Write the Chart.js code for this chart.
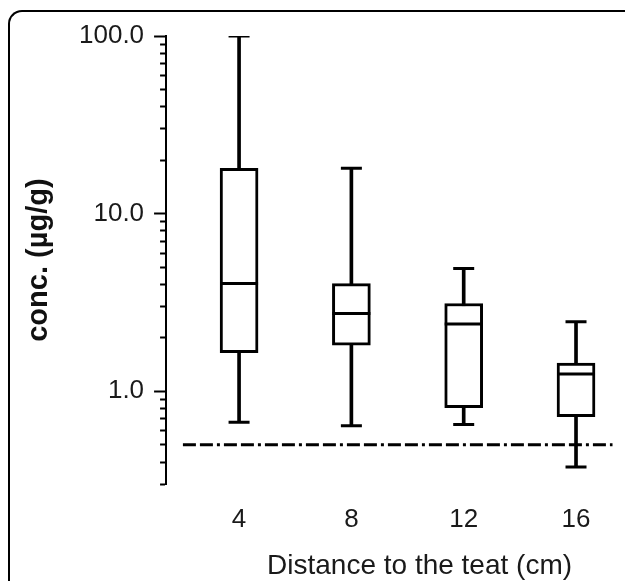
<!DOCTYPE html>
<html>
<head>
<meta charset="utf-8">
<script src="https://cdn.jsdelivr.net/npm/chart.js@4"></script>
<style>
  html, body { margin: 0; padding: 0; background: #fff; overflow: hidden; }
  #wrap { position: relative; width: 625px; height: 581px; overflow: hidden; }
  #frame {
    position: absolute; left: 8px; top: 10px; width: 700px; height: 700px;
    border-left: 2px solid #000; border-top: 2px solid #000;
    border-top-left-radius: 14px; pointer-events: none;
  }
</style>
</head>
<body>
<div id="wrap">
  <!-- canvas a bit wider than the window so the x title sits where the original has it -->
  <canvas id="boxChart" width="695" height="581"></canvas>
  <div id="frame"></div>
</div>
<script>
// Box plot values (µg/g), one entry per distance
const distances = [4, 8, 12, 16];
const whiskerLow = [0.67, 0.64, 0.65, 0.375];
const quartile1 = [1.65, 1.82, 0.81, 0.72];
const medians = [4.04, 2.74, 2.39, 1.25];
const quartile3 = [18.0, 4.04, 3.12, 1.44];
const whiskerHigh = [100, 18.0, 4.91, 2.46];

// Detection limit (dashed line)
const limitValue = 0.5;
const limitRange = [2, 17.3];

// Axis ticks
const xTicks = [4, 8, 12, 16];
const yTicks = [0.3, 0.4, 0.5, 0.6, 0.7, 0.8, 0.9, 1, 2, 3, 4, 5, 6, 7, 8, 9, 10, 20, 30, 40, 50, 60, 70, 80, 90, 100];
const yMajor = [1, 10, 100];

const tickFont = { family: 'Liberation Sans', size: 26 };

// Build datasets
const medianData = distances.map((x, i) => ({ x, y: medians[i] }));
const boxData = distances.map((x, i) => ({ x, y: [quartile1[i], quartile3[i]] }));
const capData = [];
distances.forEach((x, i) => {
    capData.push({ x, y: whiskerLow[i] });
    capData.push({ x, y: whiskerHigh[i] });
});
const whiskerData = distances.map((x, i) => ({ x, y: [whiskerLow[i], whiskerHigh[i]] }));
const limitData = limitRange.map(x => ({ x, y: limitValue }));

const ctx = document.getElementById('boxChart').getContext('2d');
new Chart(ctx, {
    type: 'bar',
    data: {
        datasets: [
            {
                type: 'line', data: medianData, showLine: false,
                pointStyle: 'line', pointRadius: 19, pointBorderWidth: 3,
                pointBorderColor: '#000', pointHoverRadius: 19
            },
            {
                data: boxData, grouped: false, barThickness: 38,
                backgroundColor: '#fff', borderColor: '#000', borderWidth: 3,
                borderSkipped: false
            },
            {
                type: 'line', data: capData, showLine: false,
                pointStyle: 'line', pointRadius: 10.5, pointBorderWidth: 3,
                pointBorderColor: '#000', pointHoverRadius: 10.5
            },
            {
                data: whiskerData, grouped: false, barThickness: 3,
                backgroundColor: '#000', borderWidth: 0
            },
            {
                type: 'line', data: limitData, borderColor: '#000', borderWidth: 3,
                borderDash: [13, 4, 13, 4, 3, 4], pointRadius: 0, fill: false
            }
        ]
    },
    options: {
        responsive: false,
        animation: false,
        layout: { padding: { left: 21.6, top: 36, right: 0, bottom: 0 } },
        plugins: {
            legend: { display: false },
            tooltip: { enabled: false }
        },
        scales: {
            x: {
                type: 'linear',
                min: 1.4,
                max: 19.454,
                offset: false,
                grid: { display: false },
                border: { display: false },
                afterBuildTicks: axis => { axis.ticks = xTicks.map(v => ({ value: v })); },
                ticks: {
                    font: tickFont, color: '#1a1a1a', padding: 12,
                    maxRotation: 0, autoSkip: false,
                    callback: v => String(v)
                },
                title: {
                    display: true, text: 'Distance to the teat (cm)',
                    font: { family: 'Liberation Sans', size: 28 }, color: '#1a1a1a',
                    padding: { top: 2, bottom: -2 }
                }
            },
            y: {
                type: 'logarithmic',
                min: 0.3,
                max: 100,
                afterBuildTicks: axis => { axis.ticks = yTicks.map(v => ({ value: v })); },
                grid: {
                    drawOnChartArea: false, drawTicks: true, tickLength: 12,
                    tickWidth: 2, tickColor: '#000',
                    // minor ticks: only the 6px next to the axis
                    tickBorderDash: c => (c.tick && yMajor.includes(c.tick.value)) ? [] : [0, 6, 6, 100]
                },
                border: { display: true, color: '#000', width: 2 },
                ticks: {
                    font: tickFont, color: '#1a1a1a', padding: 10, autoSkip: false,
                    callback: v => yMajor.includes(v) ? v.toFixed(1) : ''
                },
                title: {
                    display: true, text: 'conc. (µg/g)',
                    font: { family: 'Liberation Sans', size: 29, weight: 'bold' }, color: '#111',
                    padding: { top: 0, bottom: 12.6 }
                }
            }
        }
    }
});
</script>
</body>
</html>
